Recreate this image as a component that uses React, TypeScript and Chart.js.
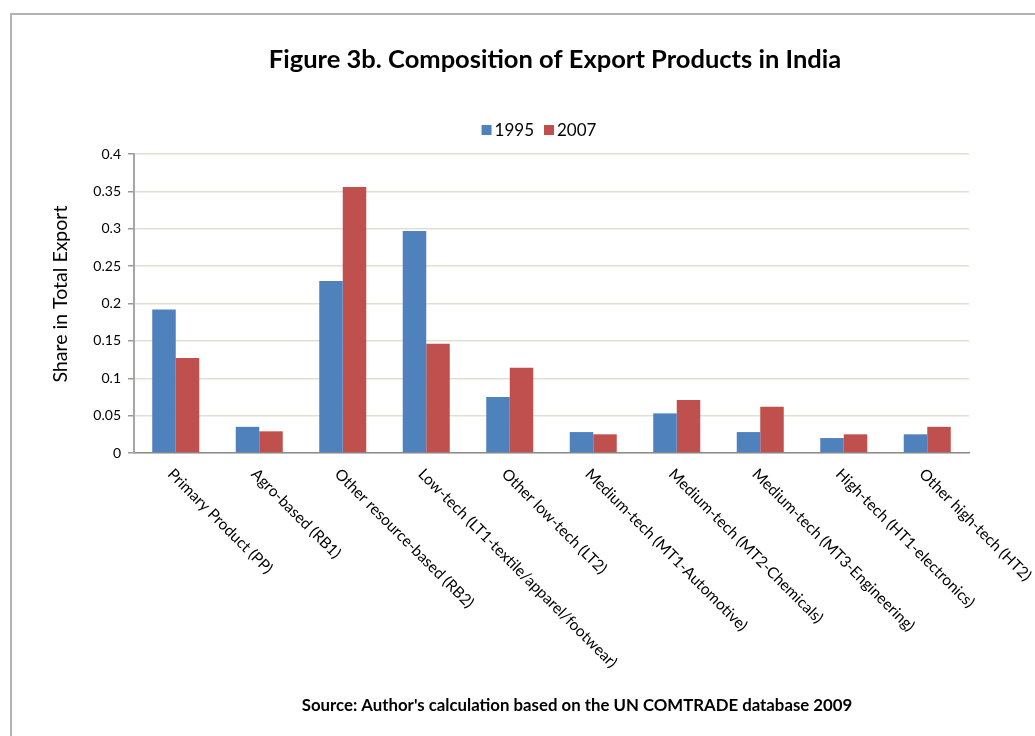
import React, { useEffect, useRef } from "react";
import { Chart, registerables } from "chart.js";

Chart.register(...registerables);

const categories = [
  "Primary Product (PP)",
  "Agro-based (RB1)",
  "Other resource-based (RB2)",
  "Low-tech (LT1-textile/apparel/footwear)",
  "Other low-tech (LT2)",
  "Medium-tech (MT1-Automotive)",
  "Medium-tech (MT2-Chemicals)",
  "Medium-tech (MT3-Engineering)",
  "High-tech (HT1-electronics)",
  "Other high-tech (HT2)",
];
const seriesNames = ["1995", "2007"];
const values1995 = [0.192, 0.035, 0.23, 0.297, 0.075, 0.028, 0.053, 0.028, 0.02, 0.025];
const values2007 = [0.127, 0.029, 0.356, 0.146, 0.114, 0.025, 0.071, 0.062, 0.025, 0.035];
const yMin = 0;
const yMax = 0.4;
const yStep = 0.05;
const titleText = "Figure 3b. Composition of Export Products in India";
const yAxisTitle = "Share in Total Export";
const sourceText = "Source: Author's calculation based on the UN COMTRADE database 2009";

const colors = ["#4f81bd", "#c0504d"];
const FONT = "Lato, 'Open Sans', sans-serif";

const decorPlugin = {
  id: "decor",
  beforeDraw(chart: any) {
    const ctx = chart.ctx as CanvasRenderingContext2D;
    ctx.save();
    ctx.fillStyle = "#ffffff";
    ctx.fillRect(0, 0, chart.width, chart.height);
    // frame
    ctx.fillStyle = "#b4b4b4";
    ctx.fillRect(10, 13, chart.width, 2);
    ctx.fillRect(10, 13, 2, chart.height);
    // title
    ctx.fillStyle = "#000000";
    ctx.font = `bold 25.5px ${FONT}`;
    ctx.textAlign = "center";
    ctx.textBaseline = "middle";
    ctx.fillText(titleText, 555, 60);
    // legend
    ctx.font = `17px ${FONT}`;
    const box = 10;
    const gap = 3;
    const spacing = 10;
    const widths = seriesNames.map((s) => ctx.measureText(s).width);
    const total = widths.reduce((a, w) => a + box + gap + w, 0) + spacing * (seriesNames.length - 1);
    let x = 539 - total / 2;
    ctx.textAlign = "left";
    seriesNames.forEach((s, i) => {
      ctx.fillStyle = colors[i];
      ctx.fillRect(x, 125, box, box);
      x += box + gap;
      ctx.fillStyle = "#000000";
      ctx.fillText(s, x, 131);
      x += widths[i] + spacing;
    });
    // y axis title
    ctx.save();
    ctx.translate(61, 294);
    ctx.rotate(-Math.PI / 2);
    ctx.textAlign = "center";
    ctx.textBaseline = "middle";
    ctx.font = `19.5px ${FONT}`;
    ctx.fillText(yAxisTitle, 0, 0);
    ctx.restore();
    // source
    ctx.font = `bold 16.8px ${FONT}`;
    ctx.textAlign = "center";
    ctx.textBaseline = "middle";
    ctx.fillText(sourceText, 577, 706);
    ctx.restore();
  },
  afterDraw(chart: any) {
    const ctx = chart.ctx as CanvasRenderingContext2D;
    const xs = chart.scales.x;
    const bottom = chart.chartArea.bottom;
    ctx.save();
    ctx.fillStyle = "#000000";
    ctx.font = `15.5px ${FONT}`;
    ctx.textAlign = "left";
    ctx.textBaseline = "alphabetic";
    categories.forEach((c, i) => {
      const cx = xs.getPixelForValue(i);
      ctx.save();
      ctx.translate(cx - 9, bottom + 22);
      ctx.rotate(Math.PI / 4);
      ctx.fillText(c, 0, 0);
      ctx.restore();
    });
    ctx.restore();
  },
};

export default function App() {
  const ref = useRef<HTMLCanvasElement | null>(null);
  useEffect(() => {
    if (!ref.current) return;
    const chart = new Chart(ref.current, {
      type: "bar",
      data: {
        labels: categories,
        datasets: [
          {
            label: seriesNames[0],
            data: values1995,
            backgroundColor: colors[0],
            barPercentage: 1,
            categoryPercentage: 0.563,
          },
          {
            label: seriesNames[1],
            data: values2007,
            backgroundColor: colors[1],
            barPercentage: 1,
            categoryPercentage: 0.563,
          },
        ],
      },
      options: {
        responsive: false,
        animation: false,
        devicePixelRatio: 1,
        layout: { padding: { left: 40, right: 66, top: 154, bottom: 283 } },
        plugins: {
          legend: { display: false },
          title: { display: false },
          tooltip: { enabled: false },
        },
        scales: {
          x: {
            grid: { display: false, drawTicks: false },
            border: { color: "#8c8c8c", width: 1.5 },
            ticks: { display: false },
            afterFit: (s: any) => {
              s.height = 0;
            },
          },
          y: {
            min: yMin,
            max: yMax,
            ticks: {
              stepSize: yStep,
              color: "#000000",
              font: { family: FONT, size: 14 },
              padding: 7,
              callback: (v: any) => String(Number(Number(v).toFixed(2))),
            },
            grid: {
              color: "#e3dfd0",
              lineWidth: 1.5,
              tickColor: "#9a9a9a",
              tickLength: 6,
            },
            border: { color: "#a6a6a6", width: 2 },
            afterFit: (s: any) => {
              s.width = 94;
            },
          },
        },
      },
      plugins: [decorPlugin],
    });
    return () => chart.destroy();
  }, []);
  return (
    <div style={{ position: "absolute", left: 0, top: 0, width: 1035, height: 736 }}>
      <canvas ref={ref} width={1035} height={736} style={{ display: "block" }} />
    </div>
  );
}
